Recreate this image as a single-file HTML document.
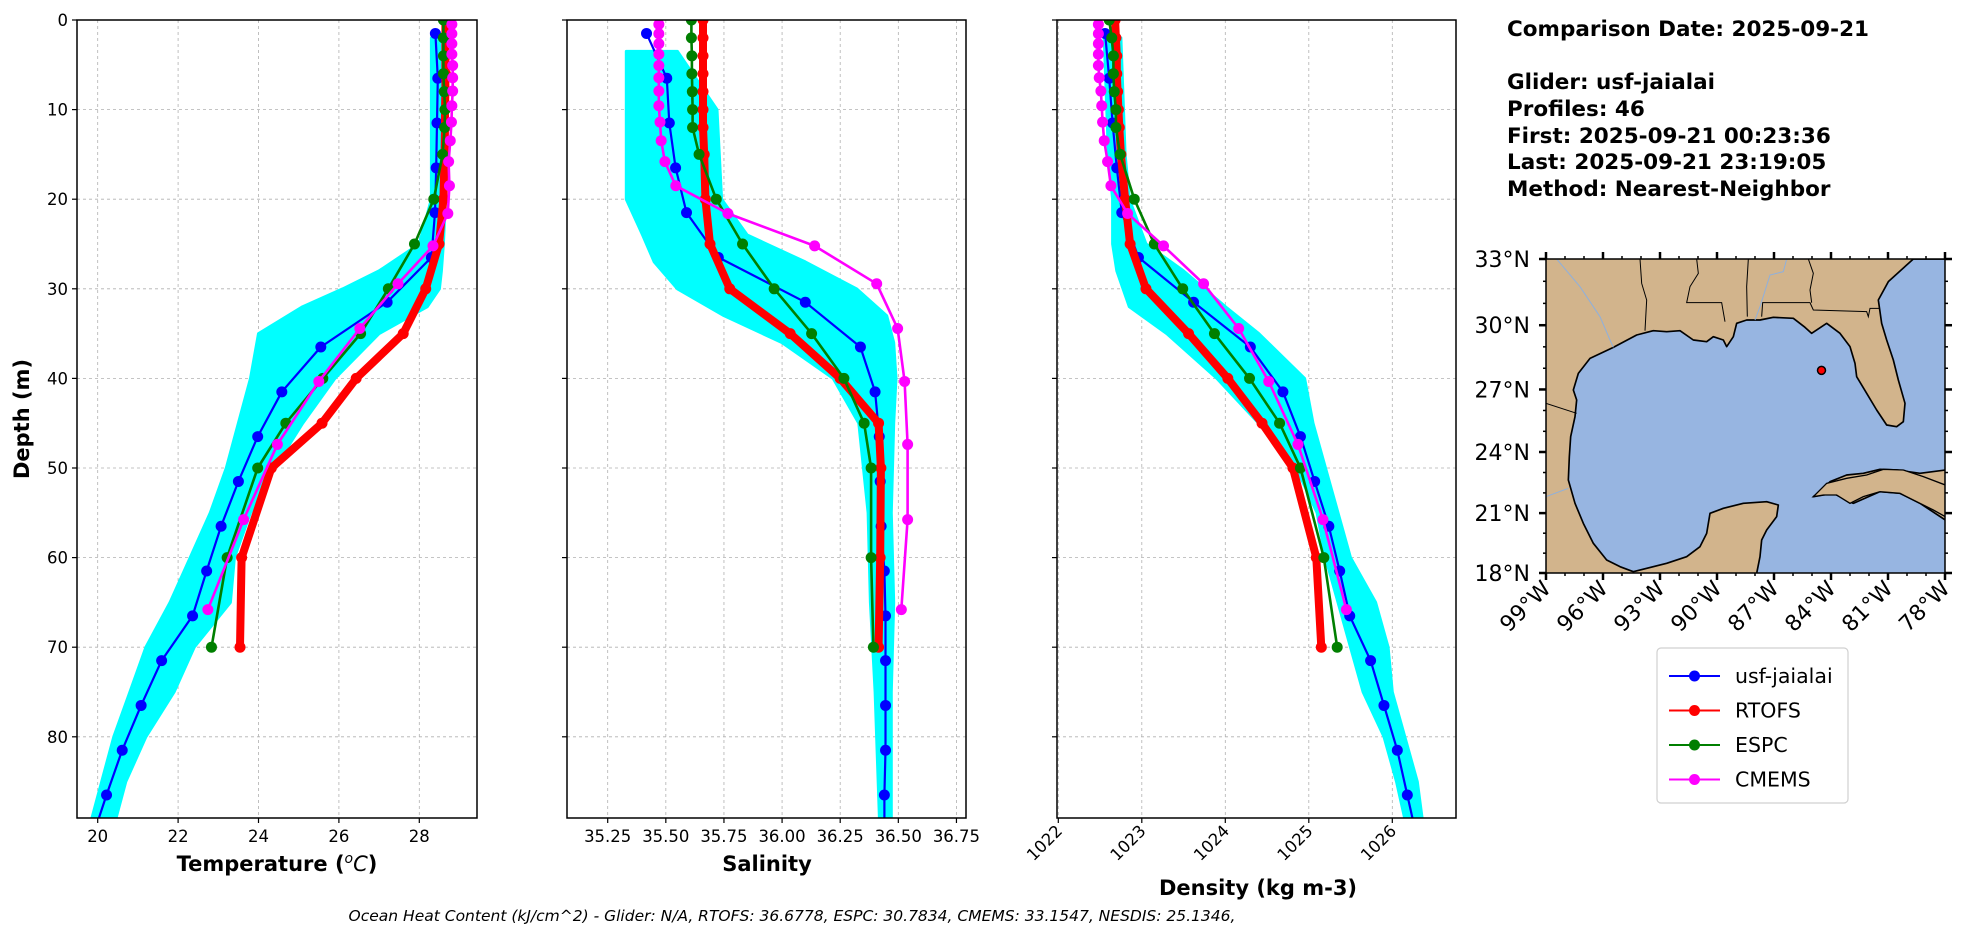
<!DOCTYPE html>
<html><head><meta charset="utf-8">
<style>
html,body{margin:0;padding:0;background:#fff;}
svg{display:block;font-family:"DejaVu Sans","Liberation Sans",sans-serif;}
</style></head>
<body>
<svg id="fig" width="1987" height="934" viewBox="0 0 1987 934" xmlns="http://www.w3.org/2000/svg">
<defs>
<clipPath id="c1"><rect x="77" y="20" width="400" height="798"/></clipPath>
<clipPath id="c2"><rect x="567" y="20" width="399" height="798"/></clipPath>
<clipPath id="c3"><rect x="1057" y="20" width="399" height="798"/></clipPath>
<clipPath id="cm"><rect x="1546" y="259" width="399" height="314"/></clipPath>
</defs>
<g id="root"></g>

<g>
 <g clip-path="url(#cm)">
  <rect x="1546" y="259" width="399" height="314" fill="#d2b48c"/>
  <g transform="translate(1480,240) scale(0.33333)">
   <polygon fill="#97b5e1" stroke="#000" stroke-width="5" stroke-linejoin="round"
    points="400,322 470,285 520,272 560,275 600,272 640,300 680,305 700,290 730,300 740,320 760,290 770,250 800,240 840,240 880,232 940,235 975,262 995,280 1040,250 1080,280 1110,320 1125,370 1130,410 1160,460 1190,510 1220,555 1250,560 1270,545 1275,490 1255,420 1240,360 1220,300 1205,250 1195,180 1225,125 1300,57 1500,57 1500,690 1396,690 1320,700 1250,690 1200,688 1150,700 1100,705 1050,725 1020,755 1000,770 1060,760 1100,780 1120,790 1200,755 1260,760 1320,790 1396,840 1500,840 1500,1100 830,1100 830,1000 840,950 845,900 860,870 890,830 895,795 860,785 790,790 730,805 690,820 680,880 660,920 620,950 560,970 460,995 420,980 380,960 340,910 310,850 285,790 265,720 268,650 272,590 285,530 290,480 280,450 295,400 330,355"/>
   <polygon fill="#d2b48c" stroke="#000" stroke-width="4"
    points="1000,770 1040,730 1100,715 1160,705 1210,688 1270,690 1330,710 1396,735 1396,830 1360,810 1320,790 1260,760 1200,755 1150,770 1110,790 1070,765 1030,765"/>
   <polyline fill="none" stroke="#000" stroke-width="3"
    points="480,57 485,130 500,180 495,272"/>
   <polyline fill="none" stroke="#000" stroke-width="3" points="650,57 655,100 630,140 620,188 725,188 735,245"/>
   <polyline fill="none" stroke="#000" stroke-width="3" points="805,57 800,140 802,230"/>
   <polyline fill="none" stroke="#000" stroke-width="3" points="845,230 848,188 990,188 1000,210 1160,215 1165,230 1170,205 1200,205"/>
   <polyline fill="none" stroke="#000" stroke-width="3" points="985,57 1000,100 990,150 995,188"/>
   <polyline fill="none" stroke="#000" stroke-width="3" points="198,490 290,520"/>
   <polyline fill="none" stroke="#8fb0dc" stroke-width="3" points="230,57 300,140 360,230 390,300 400,322"/>
   <polyline fill="none" stroke="#8fb0dc" stroke-width="3" points="920,57 910,95 870,105 840,200 825,240"/>
   <polyline fill="none" stroke="#8fb0dc" stroke-width="3" points="198,770 265,745"/>
  </g>
 </g>
 <rect x="1546" y="259" width="399" height="314" fill="none" stroke="#000" stroke-width="1.5"/>
 <g id="mapaxes"></g>
</g>

<g font-weight="bold" font-size="21.5" fill="#000">
 <text x="1507" y="36">Comparison Date: 2025-09-21</text>
 <text x="1507" y="89">Glider: usf-jaialai</text>
 <text x="1507" y="116">Profiles: 46</text>
 <text x="1507" y="143">First: 2025-09-21 00:23:36</text>
 <text x="1507" y="169">Last: 2025-09-21 23:19:05</text>
 <text x="1507" y="196">Method: Nearest-Neighbor</text>
</g>

<text x="792" y="921" text-anchor="middle" font-style="italic" font-size="15.5">Ocean Heat Content (kJ/cm^2) - Glider: N/A,  RTOFS: 36.6778,  ESPC: 30.7834,  CMEMS: 33.1547,  NESDIS: 25.1346,</text>
</svg>

<script>
var gliderDepth = [1.5,6.5,11.5,16.5,21.5,26.5,31.5,36.5,41.5,46.5,51.5,56.5,61.5,66.5,71.5,76.5,81.5,86.5,91.5];
var gliderTemp  = [28.40,28.46,28.44,28.42,28.39,28.30,27.20,25.55,24.58,23.98,23.50,23.07,22.71,22.36,21.59,21.08,20.61,20.22,19.85];
var gliderSal   = [35.417,35.504,35.515,35.542,35.589,35.726,36.10,36.337,36.40,36.418,36.422,36.426,36.44,36.445,36.445,36.445,36.445,36.44,36.44];
var gliderDens  = [1022.56,1022.61,1022.65,1022.70,1022.76,1022.96,1023.62,1024.30,1024.69,1024.90,1025.07,1025.24,1025.37,1025.49,1025.74,1025.90,1026.06,1026.18,1026.30];

var modelDepth = [0,2,4,6,8,10,12,15,20,25,30,35,40,45,50,60,70];
var rtofsTemp = [28.65,28.65,28.65,28.65,28.65,28.64,28.64,28.63,28.60,28.49,28.16,27.60,26.43,25.58,24.32,23.58,23.54];
var rtofsSal  = [35.66,35.66,35.66,35.66,35.66,35.66,35.66,35.665,35.67,35.69,35.775,36.035,36.25,36.415,36.425,36.422,36.415];
var rtofsDens = [1022.68,1022.69,1022.70,1022.70,1022.71,1022.72,1022.73,1022.75,1022.80,1022.86,1023.05,1023.56,1024.03,1024.44,1024.81,1025.09,1025.15];
var espcTemp = [28.60,28.60,28.60,28.60,28.62,28.64,28.63,28.58,28.36,27.88,27.23,26.54,25.60,24.68,23.98,23.22,22.83];
var espcSal  = [35.61,35.61,35.612,35.612,35.614,35.615,35.615,35.643,35.717,35.83,35.966,36.127,36.266,36.353,36.383,36.383,36.393];
var espcDens = [1022.61,1022.64,1022.66,1022.66,1022.67,1022.69,1022.69,1022.74,1022.91,1023.15,1023.49,1023.87,1024.29,1024.65,1024.90,1025.18,1025.34];

var cmemsDepth = [0.49,1.54,2.65,3.82,5.08,6.44,7.93,9.57,11.4,13.47,15.81,18.5,21.6,25.21,29.44,34.43,40.34,47.37,55.76,65.81];
var cmemsTemp = [28.81,28.81,28.81,28.81,28.83,28.83,28.83,28.81,28.80,28.77,28.73,28.75,28.71,28.34,27.47,26.52,25.50,24.47,23.63,22.74];
var cmemsSal  = [35.47,35.47,35.47,35.47,35.47,35.47,35.47,35.47,35.475,35.48,35.496,35.543,35.767,36.14,36.407,36.497,36.527,36.54,36.54,36.513];
var cmemsDens = [1022.48,1022.48,1022.48,1022.48,1022.48,1022.49,1022.51,1022.52,1022.53,1022.55,1022.59,1022.63,1022.83,1023.26,1023.74,1024.16,1024.52,1024.87,1025.17,1025.45];

var cloudTDepth = [2,20,25,28,30,32,35,40,45,50,55,60,65,70,75,80,85,90];
var cloudTLo = [28.3,28.3,28.0,27.0,26.1,25.1,24.0,23.8,23.5,23.2,22.8,22.3,21.8,21.2,20.8,20.4,20.1,19.8];
var cloudTHi = [28.7,28.65,28.6,28.55,28.5,28.2,27.0,25.9,25.1,24.4,23.8,23.4,23.3,22.4,21.9,21.2,20.7,20.4];
var cloudSDepth = [3.5,10,20,24,27,30,33,36,40,45,55,65,75,90];
var cloudSLo = [35.33,35.33,35.33,35.40,35.45,35.55,35.75,36.0,36.22,36.33,36.37,36.38,36.40,36.42];
var cloudSHi = [35.55,35.72,35.74,35.85,36.10,36.32,36.45,36.48,36.49,36.48,36.47,36.48,36.47,36.47];
var cloudDDepth = [2,15,20,25,28,32,35,40,45,50,55,60,65,70,75,80,85,90];
var cloudDLo = [1022.55,1022.6,1022.65,1022.65,1022.7,1022.85,1023.3,1023.9,1024.4,1024.85,1025.1,1025.2,1025.35,1025.5,1025.65,1025.9,1026.05,1026.17];
var cloudDHi = [1022.75,1022.8,1022.85,1023.05,1023.5,1024.0,1024.4,1024.95,1025.05,1025.2,1025.35,1025.5,1025.8,1025.95,1026.0,1026.15,1026.3,1026.37];

var depthTicks = [0,10,20,30,40,50,60,70,80];
var tempTicks = [20,22,24,26,28];
var salTicks = [35.25,35.5,35.75,36.0,36.25,36.5,36.75];
var salTickLabels = ["35.25","35.50","35.75","36.00","36.25","36.50","36.75"];
var densTicks = [1022,1023,1024,1025,1026];
var mapLonTicks = [-99,-96,-93,-90,-87,-84,-81,-78];
var mapLatTicks = [18,21,24,27,30,33];
var gliderLon = [-84.5];
var gliderLat = [27.9];

var TOP=20, BOT=818;
function yD(d){return TOP + d*8.96;}
function xT(t){return 97.7 + (t-20)*40.2;}
function xS(s){return 607.7 + (s-35.25)*232.5;}
function xR(r){return 1058.3 + (r-1022)*83.5;}
function merc(lat){return Math.log(Math.tan(Math.PI/4 + lat*Math.PI/360));}
function mapX(lon){return 1546 + (lon+99)*(399/21);}
function mapY(lat){return 573 - (merc(lat)-merc(18))/(merc(33)-merc(18))*314;}

var NS='http://www.w3.org/2000/svg';
var root=document.getElementById('root');
function el(tag, attrs, parent){
  var e=document.createElementNS(NS,tag);
  for(var k in attrs){e.setAttribute(k,attrs[k]);}
  (parent||root).appendChild(e); return e;
}

var panels = [
  {x0:77,x1:477,clip:'c1',fx:xT,ticks:tempTicks,labels:tempTicks.map(String),name:'temperature',ylabels:true,
   cloud:[cloudTDepth,cloudTLo,cloudTHi],g:gliderTemp,r:rtofsTemp,e:espcTemp,c:cmemsTemp},
  {x0:567,x1:966,clip:'c2',fx:xS,ticks:salTicks,labels:salTickLabels,name:'salinity',ylabels:false,
   cloud:[cloudSDepth,cloudSLo,cloudSHi],g:gliderSal,r:rtofsSal,e:espcSal,c:cmemsSal},
  {x0:1057,x1:1456,clip:'c3',fx:xR,ticks:densTicks,labels:densTicks.map(String),name:'density',ylabels:false,rot:true,
   cloud:[cloudDDepth,cloudDLo,cloudDHi],g:gliderDens,r:rtofsDens,e:espcDens,c:cmemsDens}
];

panels.forEach(function(p){
  var g=el('g',{});
  
  
  var grid=el('g',{stroke:'#b0b0b0','stroke-width':0.8,'stroke-dasharray':'3,3'},g);
  
  
  p.ticks.forEach(function(t){var x=p.fx(t); el('line',{x1:x,x2:x,y1:TOP,y2:BOT},grid);});
  depthTicks.forEach(function(d){el('line',{x1:p.x0,x2:p.x1,y1:yD(d),y2:yD(d)},grid);});
  var plot=el('g',{'clip-path':'url(#'+p.clip+')'},g);
  var pts=[];
  var cd=p.cloud[0],lo=p.cloud[1],hi=p.cloud[2];
  for(var i=0;i<cd.length;i++) pts.push(p.fx(lo[i]).toFixed(1)+','+yD(cd[i]).toFixed(1));
  for(var j=cd.length-1;j>=0;j--) pts.push(p.fx(hi[j]).toFixed(1)+','+yD(cd[j]).toFixed(1));
  var cl=el('polygon',{points:pts.join(' '),fill:'#00ffff',stroke:'#00ffff','stroke-width':3,'stroke-linejoin':'round'},plot);
  
  
  function series(vals,depths,color,lw,r,nm){
    var sg=el('g',{},plot);
    
    
    var s=vals.map(function(v,i){return p.fx(v).toFixed(1)+','+yD(depths[i]).toFixed(1);}).join(' ');
    el('polyline',{points:s,fill:'none',stroke:color,'stroke-width':lw,'stroke-linejoin':'round'},sg);
    vals.forEach(function(v,i){
      var c=el('circle',{cx:p.fx(v),cy:yD(depths[i]),r:r,fill:color},sg);
      
      
    });
  }
  series(p.g,gliderDepth,'#0000ff',2.2,5.5,'glider');
  series(p.r,modelDepth,'#ff0000',8,5.5,'rtofs');
  series(p.e,modelDepth,'#007f00',2.6,5.5,'espc');
  series(p.c,cmemsDepth,'#ff00ff',2.6,5.5,'cmems');
  var fr=el('rect',{x:p.x0,y:TOP,width:p.x1-p.x0,height:BOT-TOP,fill:'none',stroke:'#000','stroke-width':1.5},g);
  
  
  var tg=el('g',{'font-size':16.5,fill:'#000'},g);
  
  
  p.ticks.forEach(function(t,i){
    var x=p.fx(t);
    el('line',{x1:x,x2:x,y1:BOT,y2:BOT+5,stroke:'#000','stroke-width':1.2},tg);
    var tx;
    if(p.rot){
      tx=el('text',{x:x+5,y:BOT+14,'text-anchor':'end',transform:'rotate(-45 '+(x+5)+' '+(BOT+14)+')'},tg);
    } else {
      tx=el('text',{x:x,y:BOT+24,'text-anchor':'middle'},tg);
    }
    tx.textContent=p.labels[i];
    
    
  });
  var yg=el('g',{'font-size':16.5,fill:'#000'},g);
  
  
  depthTicks.forEach(function(d){
    var y=yD(d);
    el('line',{x1:p.x0-5,x2:p.x0,y1:y,y2:y,stroke:'#000','stroke-width':1.2},yg);
    if(p.ylabels){
      var tx=el('text',{x:p.x0-9,y:y+6,'text-anchor':'end'},yg);
      tx.textContent=String(d);
      
      
    }
  });
});

var t1=el('text',{x:277,y:871,'text-anchor':'middle','font-size':21,'font-weight':'bold'});


var s1=el('tspan',{},t1); s1.textContent='Temperature (';
var s2=el('tspan',{'font-style':'italic','font-weight':'normal','font-size':14,dy:-8},t1); s2.textContent='o';
var s3=el('tspan',{'font-style':'italic','font-weight':'normal',dy:8},t1); s3.textContent='C';
var s4=el('tspan',{},t1); s4.textContent=')';
var t2=el('text',{x:767,y:871,'text-anchor':'middle','font-size':21,'font-weight':'bold'});
t2.textContent='Salinity';


var t3=el('text',{x:1258,y:895,'text-anchor':'middle','font-size':21,'font-weight':'bold'});
t3.textContent='Density (kg m-3)';


var t4=el('text',{x:29,y:419,'text-anchor':'middle','font-size':21,'font-weight':'bold',transform:'rotate(-90 29 419)'});
t4.textContent='Depth (m)';



var ma=document.getElementById('mapaxes');
mapLonTicks.forEach(function(lon){
  var x=mapX(lon);
  el('line',{x1:x,x2:x,y1:573,y2:580,stroke:'#000','stroke-width':2.5},ma);
  el('line',{x1:x,x2:x,y1:252,y2:259,stroke:'#000','stroke-width':2.5},ma);
  var tx=el('text',{x:x+6,y:590,'text-anchor':'end','font-size':22,transform:'rotate(-45 '+(x+6)+' 590)'},ma);
  tx.textContent=Math.abs(lon)+'°W';
  
  
});
for(var lon=-98;lon<=-79;lon++){ if((lon+99)%3===0) continue;
  var x=mapX(lon);
  el('line',{x1:x,x2:x,y1:573,y2:576,stroke:'#000','stroke-width':1.5},ma);
  el('line',{x1:x,x2:x,y1:256,y2:259,stroke:'#000','stroke-width':1.5},ma);
}
mapLatTicks.forEach(function(lat){
  var y=mapY(lat);
  el('line',{x1:1539,x2:1546,y1:y,y2:y,stroke:'#000','stroke-width':2.5},ma);
  el('line',{x1:1945,x2:1952,y1:y,y2:y,stroke:'#000','stroke-width':2.5},ma);
  var tx=el('text',{x:1530,y:y+8,'text-anchor':'end','font-size':22},ma);
  tx.textContent=lat+'°N';
  
  
});
for(var lat=19;lat<33;lat++){ if((lat-18)%3===0) continue;
  var yy=mapY(lat);
  el('line',{x1:1543,x2:1546,y1:yy,y2:yy,stroke:'#000','stroke-width':1.5},ma);
  el('line',{x1:1945,x2:1948,y1:yy,y2:yy,stroke:'#000','stroke-width':1.5},ma);
}
gliderLon.forEach(function(lon,i){
  var gp=el('circle',{cx:mapX(lon),cy:mapY(gliderLat[i]),r:4,fill:'#ff0000',stroke:'#000','stroke-width':1.5},ma);
  
  
});

var lg=el('g',{});


el('rect',{x:1657,y:648,width:191,height:155,rx:4,fill:'#fff',stroke:'#d0d0d0','stroke-width':1.2},lg);
var legNames=['usf-jaialai','RTOFS','ESPC','CMEMS'];
var legColors=['#0000ff','#ff0000','#007f00','#ff00ff'];
legNames.forEach(function(n,i){
  var y=676+i*34.5;
  var eg=el('g',{},lg);
  
  
  el('line',{x1:1669,x2:1720,y1:y,y2:y,stroke:legColors[i],'stroke-width':2},eg);
  el('circle',{cx:1694.5,cy:y,r:5.5,fill:legColors[i]},eg);
  var tx=el('text',{x:1735,y:y+7,'font-size':20.5},eg);
  tx.textContent=n;
});
</script>
</body></html>
